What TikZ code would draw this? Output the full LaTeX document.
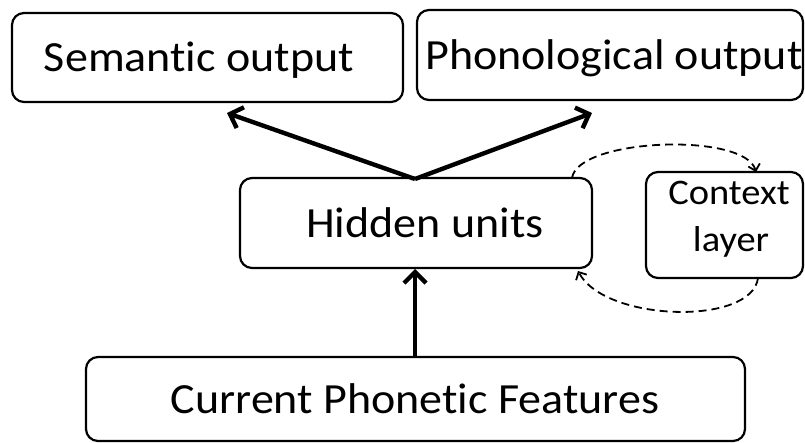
\documentclass[tikz,border=0pt]{standalone}
\usepackage{fontspec}
\setmainfont[Ligatures=NoCommon]{Carlito}
\usetikzlibrary{arrows.meta}
\newcommand{\bigtxt}[1]{\scalebox{1.07}[1]{\fontsize{43}{50}\selectfont #1}}
\newcommand{\midtxt}[1]{\scalebox{1.07}[1]{\fontsize{36}{44}\selectfont #1}}
\begin{document}
\begin{tikzpicture}[x=1pt,y=-1pt,
  unitbox/.style={draw, line width=2.2pt, rounded corners=12pt},
  label/.style={anchor=base, inner sep=0pt},
  flow/.style={line width=4.4pt, -{Straight Barb[length=11pt,width=22pt,line width=4.4pt]}},
  recur/.style={line width=1.8pt, dash pattern=on 8pt off 5pt, -{Straight Barb[length=6pt,width=12pt,line width=1.8pt]}}]
  \useasboundingbox (0,0) rectangle (805,443);
  % layer boxes
  \draw[unitbox] (12,13) rectangle (403,102);
  \draw[unitbox] (417,10) rectangle (803,100);
  \draw[unitbox] (240,178) rectangle (592,268);
  \draw[unitbox] (646,172) rectangle (803,278);
  \draw[unitbox] (86,357) rectangle (745,441);
  % layer names
  \node[label] (sem) at (199,72) {\bigtxt{Semantic output}};
  \node[label] (pho) at (614,70) {\bigtxt{Phonological output}};
  \node[label] (hid) at (425,238) {\bigtxt{Hidden units}};
  \node[label] (ctxa) at (729,205) {\midtxt{Context}};
  \node[label] (ctxb) at (731,252) {\midtxt{layer}};
  \node[label] (cur) at (415,413) {\bigtxt{Current Phonetic Features}};
  % connection points on the box edges
  \coordinate (hidtop) at (415,179);
  \coordinate (hidbot) at (415,269);
  \coordinate (curtop) at (415,357);
  \coordinate (semtip) at (227,113);
  \coordinate (photip) at (592,113);
  \coordinate (hidtr) at (572,178);
  \coordinate (ctxtop) at (756,172);
  \coordinate (ctxbot) at (758,278);
  \coordinate (hidbr) at (578,271);
  % feed-forward connections
  \draw[flow] (hidtop) -- (semtip);
  \draw[flow] (hidtop) -- (photip);
  \draw[flow] (curtop) -- (hidbot);
  % recurrent copy loop
  \draw[recur] (hidtr) .. controls (578,138) and (745,132) .. (ctxtop);
  \draw[recur] (ctxbot) .. controls (752,326) and (605,322) .. (hidbr);
\end{tikzpicture}
\end{document}
